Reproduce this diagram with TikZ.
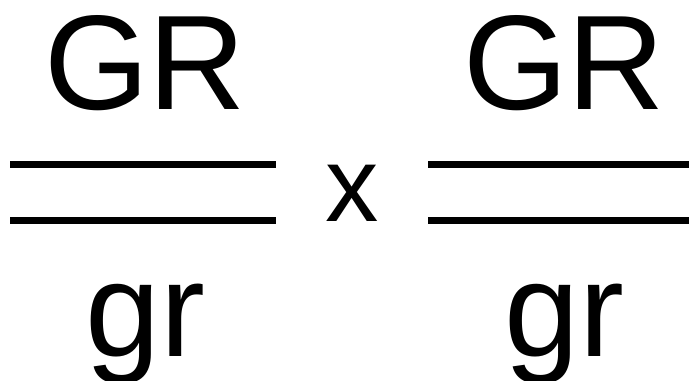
\documentclass[tikz,border=0pt]{standalone}
\usepackage{fontspec}
\setmainfont{Liberation Sans}
\begin{document}
\begin{tikzpicture}[x=0.75pt,y=-0.75pt,
  big/.style={inner sep=0pt,anchor=base,font=\fontsize{101}{101}\selectfont},
  times/.style={inner sep=0pt,anchor=base,font=\fontsize{80}{80}\selectfont},
  bar/.style={line width=5.25pt}]
\useasboundingbox (0,0) rectangle (689,381);
\node[big] (gr1) at (145,110) {GR};
\node[big] (lr1) at (145,356) {gr};
\node[big] (gr2) at (564,110) {GR};
\node[big] (lr2) at (564,356) {gr};
\node[times] (x) at (352,222) {x};
\coordinate (a1) at (10,164.5); \coordinate (b1) at (276,164.5);
\coordinate (a2) at (10,220.5); \coordinate (b2) at (276,220.5);
\coordinate (c1) at (428,164.5); \coordinate (d1) at (689,164.5);
\coordinate (c2) at (428,220.5); \coordinate (d2) at (689,220.5);
\draw[bar] (a1) -- (b1);
\draw[bar] (a2) -- (b2);
\draw[bar] (c1) -- (d1);
\draw[bar] (c2) -- (d2);
\end{tikzpicture}
\end{document}
